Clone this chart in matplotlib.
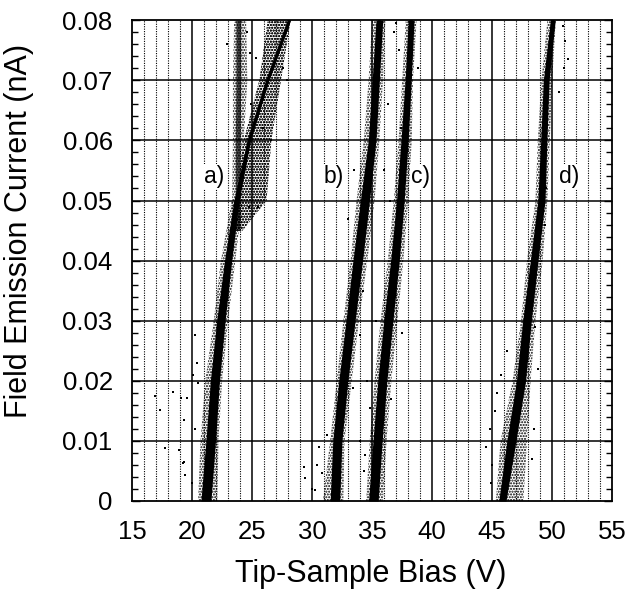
import numpy as np
import matplotlib.pyplot as plt
from matplotlib.ticker import MultipleLocator, FuncFormatter

plt.rcParams['font.family'] = ['Liberation Sans', 'DejaVu Sans']
plt.rcParams['hatch.linewidth'] = 1.0

levels = [0.0, 0.01, 0.02, 0.03, 0.04, 0.05, 0.06, 0.07, 0.08]

# centre line of each data band (bias, V)
a_line = [21.15, 21.55, 21.9, 22.4, 23.0, 23.7, 24.75, 26.3, 28.1]
b_line = [31.9, 32.1, 32.6, 33.2, 33.8, 34.4, 35.0, 35.3, 35.6]
c_line = [35.1, 35.45, 35.85, 36.35, 36.9, 37.35, 37.7, 38.0, 38.25]
d_line = [45.85, 46.6, 47.4, 47.9, 48.5, 49.1, 49.3, 49.5, 50.05]

# half width of the dense core
a_core = [0.42, 0.4, 0.38, 0.35, 0.3, 0.22, 0.12, 0.1, 0.1]
b_core = [0.4, 0.38, 0.38, 0.38, 0.4, 0.38, 0.32, 0.3, 0.28]
c_core = [0.4, 0.38, 0.38, 0.38, 0.36, 0.32, 0.3, 0.26, 0.24]
d_core = [0.3, 0.38, 0.38, 0.36, 0.32, 0.3, 0.26, 0.24, 0.2]

# outer edges of the scattered cloud
a_lo_levels = [0.0, 0.01, 0.02, 0.03, 0.04, 0.05]
a_lo_left = [20.5, 20.7, 21.1, 21.8, 22.4, 23.3]
a_lo_right = [22.1, 22.2, 22.5, 23.0, 23.6, 24.2]
a_up_levels = [0.045, 0.05, 0.06, 0.07, 0.08]
a_up_left = [23.4, 23.7, 24.3, 25.6, 26.3]
a_up_right = [24.2, 26.2, 26.6, 27.4, 28.2]
a_br_levels = [0.045, 0.06, 0.07, 0.08]
a_br_left = [23.3, 23.4, 23.4, 23.5]
a_br_right = [24.1, 24.3, 24.6, 24.5]
a_br_core_left = [23.6, 23.6, 23.65, 23.65]
a_br_core_right = [24.0, 24.0, 24.05, 24.05]

b_left = [30.9, 31.5, 32.05, 32.6, 33.2, 33.7, 34.3, 34.7, 35.0]
b_right = [32.6, 32.7, 33.3, 33.9, 34.6, 35.2, 35.6, 35.9, 36.1]
c_left = [34.5, 34.8, 35.2, 35.7, 36.3, 36.8, 37.2, 37.5, 37.8]
c_right = [35.9, 36.2, 36.6, 37.1, 37.6, 38.0, 38.3, 38.4, 38.7]
d_left = [45.3, 45.7, 46.7, 47.4, 47.9, 48.6, 48.8, 49.1, 49.6]
d_right = [47.6, 47.9, 48.2, 48.6, 49.2, 49.6, 49.8, 50.0, 50.3]

# isolated points away from the bands
stray_v = [16.9, 17.3, 18.4, 17.75, 18.9, 19.2, 19.4, 20.25, 19.3, 19.1, 20.1, 20.4,
           20.5, 19.6, 19.3, 20.2, 20.0, 24.7, 25.5, 25.3, 24.6, 24.9, 25.9, 26.6,
           27.6, 27.9, 23.1, 22.9, 24.8,
           29.3, 29.4, 30.4, 30.8, 30.25, 30.6, 33.4, 34.8, 34.4, 34.0, 35.0, 34.2,
           34.6, 36.0, 36.3, 33.0, 33.5, 31.2, 30.0,
           36.8, 37.0, 37.2, 37.3, 37.4, 36.5, 35.3, 34.3, 34.0, 36.6, 34.6, 37.5,
           38.8, 35.8,
           44.5, 44.8, 45.0, 45.2, 45.4, 44.9, 48.3, 48.5, 48.8, 50.9, 51.1, 51.3,
           51.0, 50.6, 48.6, 49.4, 49.5, 45.7, 46.2]
stray_i = [0.0174, 0.0152, 0.0182, 0.0088, 0.0085, 0.0063, 0.0043, 0.0277, 0.0135,
           0.0171, 0.021, 0.023, 0.0196, 0.0172, 0.0065, 0.012, 0.003, 0.049, 0.049,
           0.0737, 0.078, 0.066, 0.062, 0.060, 0.072, 0.070, 0.070, 0.076, 0.0745,
           0.0057, 0.0038, 0.006, 0.0047, 0.0018, 0.009, 0.0188, 0.0155, 0.0077,
           0.0277, 0.0113, 0.035, 0.047, 0.055, 0.066, 0.047, 0.055, 0.011, 0.002,
           0.078, 0.0795, 0.075, 0.055, 0.062, 0.05, 0.03, 0.005, 0.01, 0.017, 0.02,
           0.028, 0.072, 0.0105,
           0.009, 0.012, 0.006, 0.015, 0.018, 0.003, 0.007, 0.012, 0.022, 0.079,
           0.0765, 0.0735, 0.072, 0.068, 0.029, 0.046, 0.052, 0.021, 0.025]

labels = ['a)', 'b)', 'c)', 'd)']
label_v = [21.8, 31.8, 39.0, 51.4]
label_i = 0.054

fig = plt.figure(figsize=(6.26, 5.95), dpi=100)
ax = fig.add_axes([0.211, 0.158, 0.767, 0.808])

# grid: dotted every volt, solid every 5 V and every 0.01 nA
for v in range(16, 55):
    if v % 5 == 0:
        ax.axvline(v, color='black', lw=1.1, zorder=1)
    else:
        ax.axvline(v, color='black', lw=0.8, ls=(0, (1, 1.2)), zorder=1)
for k in range(1, 8):
    ax.axhline(k * 0.01, color='black', lw=1.1, zorder=1)


def cloud(lev, left, right):
    ax.fill_betweenx(lev, left, right, facecolor='none', edgecolor='black',
                     hatch='......', linewidth=0, zorder=2)


def core(lev, centre, hw):
    c = np.array(centre)
    h = np.array(hw)
    ax.fill_betweenx(lev, c - h, c + h, color='black', lw=0, zorder=3)


cloud(a_lo_levels, a_lo_left, a_lo_right)
cloud(a_up_levels, a_up_left, a_up_right)
cloud(a_up_levels, a_up_left, a_up_right)
cloud(a_br_levels, a_br_left, a_br_right)
ax.fill_betweenx(a_br_levels, a_br_core_left, a_br_core_right, color='black', alpha=0.7, lw=0, zorder=3)
cloud(levels, b_left, b_right)
cloud(levels, c_left, c_right)
cloud(levels, d_left, d_right)

for line, hw in [(a_line, a_core), (b_line, b_core), (c_line, c_core), (d_line, d_core)]:
    core(levels, line, hw)
    ax.plot(line, levels, color='black', lw=2.2, zorder=4)

ax.scatter(stray_v, stray_i, s=3, color='black', marker='s', lw=0, zorder=4)

for t, v in zip(labels, label_v):
    ax.text(v, label_i, t, fontsize=16.5, ha='center', va='center', zorder=5,
            bbox=dict(facecolor='white', edgecolor='none', pad=0.5))

ax.set_xlim(15, 55)
ax.set_ylim(0, 0.08)
ax.xaxis.set_major_locator(MultipleLocator(5))
ax.yaxis.set_major_locator(MultipleLocator(0.01))
ax.yaxis.set_minor_locator(MultipleLocator(0.002))
ax.yaxis.set_major_formatter(FuncFormatter(lambda y, p: '0' if abs(y) < 1e-9 else f'{y:.2f}'))
ax.tick_params(axis='x', length=0, pad=14, labelsize=18.5)
ax.tick_params(axis='y', which='both', direction='in', left=True, right=True,
               pad=14, labelsize=18.5)
ax.tick_params(axis='y', which='major', length=6, width=1)
ax.tick_params(axis='y', which='minor', length=4, width=1)
for s in ax.spines.values():
    s.set_linewidth(1.3)

ax.set_xlabel('Tip-Sample Bias (V)', fontsize=22)
ax.set_ylabel('Field Emission Current (nA)', fontsize=22)
ax.xaxis.set_label_coords(0.496, -0.12)
ax.yaxis.set_label_coords(-0.205, 0.561)

fig.savefig('out.png', dpi=100)
